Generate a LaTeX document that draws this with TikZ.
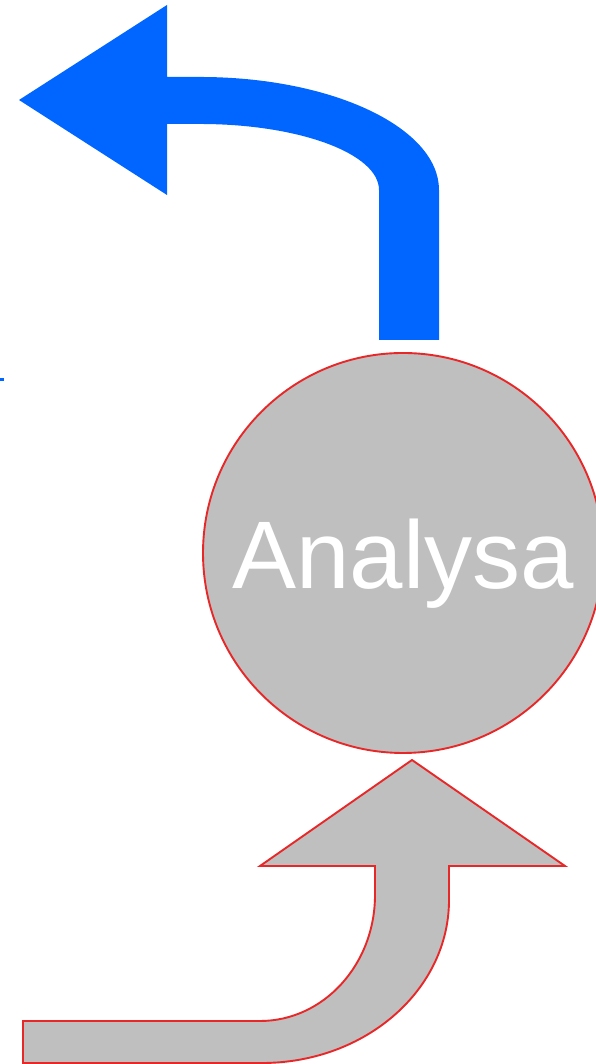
\documentclass[tikz,border=0pt]{standalone}
\usepackage{fontspec}
\newfontfamily\arialfont{Liberation Sans}
\definecolor{arrowblue}{RGB}{0,102,255}
\definecolor{shapegray}{RGB}{191,191,191}
\definecolor{edgered}{RGB}{232,40,40}
\begin{document}
\begin{tikzpicture}
  [x=1pt,y=1pt,
   grayshape/.style={fill=shapegray,draw=edgered,line width=1.9pt,line join=miter},
   blueshape/.style={fill=arrowblue,draw=none}]
  \useasboundingbox (0,0) rectangle (595,1064);

  % the circle in the middle
  \node (analysa) at (403,511) [circle,grayshape,minimum size=400pt,inner sep=0pt,
    text=white,font=\arialfont\fontsize{96}{96}\selectfont,
    text height=72pt,text depth=0pt] {Analysa};

  % blue arrow going out at the top
  \fill[blueshape] (379,724) -- (379,874)
    arc[start angle=0,end angle=90,x radius=179,y radius=66]
    -- (167,940) -- (167,869) -- (19,964) -- (167,1059) -- (167,987) -- (200,987)
    arc[start angle=90,end angle=0,x radius=239,y radius=113]
    -- (439,724) -- cycle;
  \fill[blueshape] (0,683) rectangle (4,686);

  % gray arrow coming in at the bottom
  \draw[grayshape] (375,198) -- (375,169)
    arc[start angle=0,end angle=-90,x radius=115,y radius=126]
    -- (23,43) -- (23,1) -- (262,1)
    arc[start angle=-90,end angle=0,x radius=187,y radius=163]
    -- (449,198) -- (565,198) -- (412,304) -- (260,198) -- cycle;

\end{tikzpicture}
\end{document}
